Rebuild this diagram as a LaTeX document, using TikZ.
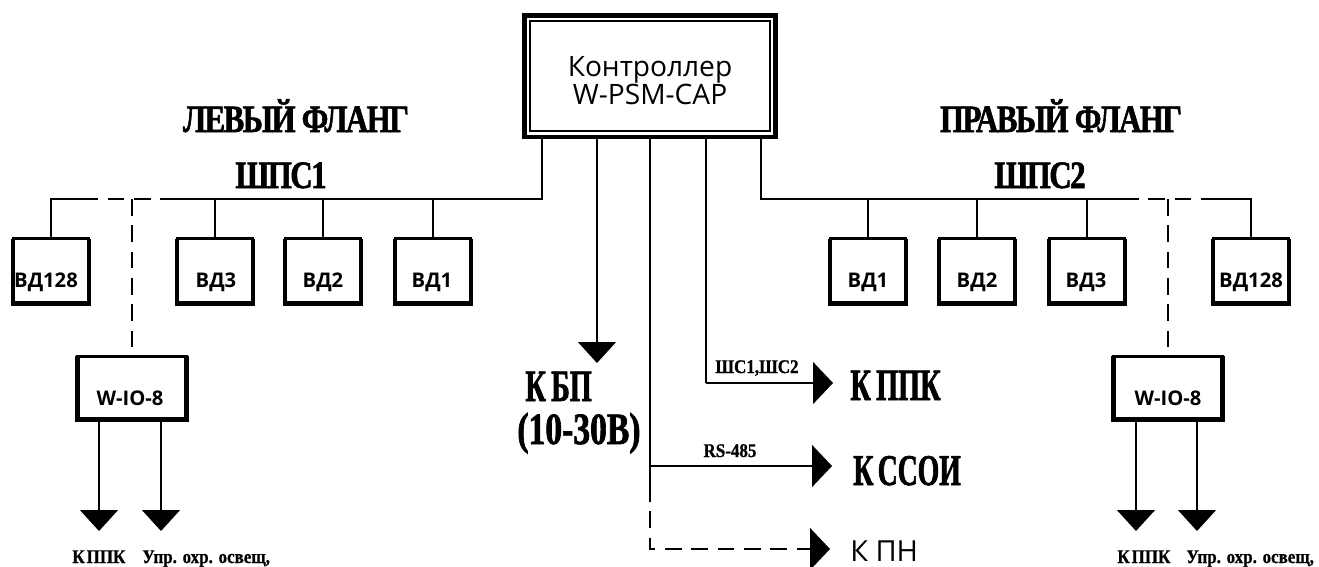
\documentclass[tikz,border=0pt]{standalone}
\usepackage{fontspec}
\setmainfont{Liberation Serif}
\newfontfamily\osans{Open Sans}
\newfontfamily\cndA[FakeStretch=0.8, LetterSpace=-4, FakeBold=1.5]{Liberation Serif}
\newfontfamily\cndK[FakeStretch=0.63, FakeBold=1.5]{Liberation Serif}
\newfontfamily\cndN[FakeStretch=0.75, FakeBold=1.5]{Liberation Serif}
\newfontfamily\cndS[FakeStretch=0.88, FakeBold=0.8]{Liberation Serif}
\usetikzlibrary{arrows.meta}
\tikzset{
  ln/.style={line width=0.8pt},
  dl/.style={line width=0.8pt, dash pattern=on 9.5pt off 5.5pt},
  vbox/.style={draw, line width=1.7pt, minimum width=1.52cm, minimum height=1.29cm, inner sep=0pt, outer sep=0pt},
  iobox/.style={draw, line width=1.7pt, minimum width=2.18cm, minimum height=1.27cm, inner sep=0pt, outer sep=0pt},
  vdtxt/.style={font=\osans\bfseries\fontsize{11.5}{14}\selectfont, anchor=base, inner sep=0pt},
  iotxt/.style={font=\osans\bfseries\fontsize{11.5}{14}\selectfont, anchor=base, inner sep=0pt},
  ctxt/.style={font=\osans\fontsize{16}{18}\selectfont, anchor=base, inner sep=0pt},
  big/.style={font=\cndA\bfseries\fontsize{22}{24}\selectfont, anchor=base, inner sep=0pt},
  bigk/.style={font=\cndK\bfseries\fontsize{25.5}{28}\selectfont, anchor=base west, inner sep=0pt, text depth=0pt},
  small/.style={font=\cndS\bfseries\fontsize{11}{12}\selectfont, anchor=base, inner sep=0pt},
  bot/.style={font=\cndS\bfseries\fontsize{11}{13}\selectfont, anchor=base west, inner sep=0pt},
  harrow/.style={ln, -{Triangle[width=0.84cm,length=0.40cm]}},
  varrow/.style={ln, -{Triangle[width=0.76cm,length=0.42cm]}},
}
\begin{document}
\begin{tikzpicture}[x=0.02cm,y=-0.02cm]
\useasboundingbox (0,0) rectangle (1319,566);
\fill[white] (0,0) rectangle (1319,566);

% controller
\node[draw, line width=2.83pt, minimum width=5.04cm, minimum height=2.44cm, inner sep=0pt, outer sep=0pt] (ctrl) at (650,76) {};
\draw[line width=0.7pt] ([xshift=0.12cm,yshift=-0.12cm]ctrl.north west) rectangle ([xshift=-0.12cm,yshift=0.12cm]ctrl.south east);
\node[ctxt] (ct1) at (650,76) {Контроллер};
\node[ctxt] (ct2) at (650,104) {W-PSM-CAP};

% flank titles
\node[big] (lflank) at (296,132) {ЛЕВЫЙ ФЛАНГ};
\node[big] (rflank) at (1061,132) {ПРАВЫЙ ФЛАНГ};
\node[big] (shps1) at (281,188) {ШПС1};
\node[big] (shps2) at (1040,188) {ШПС2};

% detector boxes
\node[vbox] (vdL128) at (51,271) {};
\node[vbox] (vdL3) at (215,271) {};
\node[vbox] (vdL2) at (323,271) {};
\node[vbox] (vdL1) at (433,271) {};
\node[vbox] (vdR1) at (868,271) {};
\node[vbox] (vdR2) at (977,271) {};
\node[vbox] (vdR3) at (1087,271) {};
\node[vbox] (vdR128) at (1251,271) {};
\node[vdtxt] (tL128) at (46,287) {ВД128};
\node[vdtxt] (tL3) at (216,287) {ВД3};
\node[vdtxt] (tL2) at (323,287) {ВД2};
\node[vdtxt] (tL1) at (432,287) {ВД1};
\node[vdtxt] (tR1) at (868,287) {ВД1};
\node[vdtxt] (tR2) at (977,287) {ВД2};
\node[vdtxt] (tR3) at (1086,287) {ВД3};
\node[vdtxt] (tR128) at (1251,287) {ВД128};

% W-IO-8 boxes
\node[iobox] (ioL) at (132,388) {};
\node[iobox] (ioR) at (1168,388) {};
\node[iotxt] (tioL) at (130,405) {W-IO-8};
\node[iotxt] (tioR) at (1168,405) {W-IO-8};

\foreach \b in {vdL128,vdL3,vdL2,vdL1,vdR1,vdR2,vdR3,vdR128,ioL,ioR}
  \draw[line width=2.8pt] (\b.north west) |- (\b.south east) -- (\b.north east);

% coordinates
\coordinate (busL) at (542,199);
\coordinate (dL1) at (177,199);
\coordinate (dL2) at (88,199);
\coordinate (cornL) at (51,199);
\coordinate (busR) at (761,199);
\coordinate (dR1) at (1122,199);
\coordinate (dR2) at (1213,199);
\coordinate (cornR) at (1251,199);

% left bus
\draw[ln] (ctrl.south -| busL) -- (busL) -- (dL1);
\draw[dl] (dL1) -- (dL2);
\draw[ln] (dL2) -- (cornL) -- (vdL128.north);
\foreach \b in {vdL3,vdL2,vdL1} \draw[ln] (\b.north |- busL) -- (\b.north);
\draw[dl] (ioL.north |- busL) -- (ioL.north);

% right bus
\draw[ln] (ctrl.south -| busR) -- (busR) -- (dR1);
\draw[dl] (dR1) -- (dR2);
\draw[ln] (dR2) -- (cornR) -- (vdR128.north);
\foreach \b in {vdR1,vdR2,vdR3} \draw[ln] (\b.north |- busR) -- (\b.north);
\draw[dl] (ioR.north |- busR) -- (ioR.north);

% power
\coordinate (kbpTip) at (597,363);
\draw[varrow] (ctrl.south -| kbpTip) -- (kbpTip);
\node[bigk] (kbp1) at (525,401) {К\hspace{0.12em}БП};
\node[bigk, font=\cndN\bfseries\fontsize{25.5}{28}\selectfont, text height=0.62em] (kbp2) at (517,444) {(10-30В)};

% to PPK
\coordinate (ppkC) at (706,383);
\coordinate (ppkTip) at (833,383);
\draw[ln] (ctrl.south -| ppkC) -- (ppkC);
\draw[harrow] (ppkC) -- (ppkTip);
\node[small] (shs) at (757,373) {ШС1,ШС2};
\node[bigk] (kppk) at (850,400) {К\hspace{0.12em}ППК};

% RS-485
\coordinate (rsC) at (650,466);
\coordinate (rsTip) at (832,466);
\coordinate (dashS) at (650,485);
\coordinate (pnC) at (650,549);
\coordinate (pnTip) at (830,549);
\draw[ln] (ctrl.south -| rsC) -- (dashS);
\draw[harrow] (rsC) -- (rsTip);
\node[small] (rs) at (730,457) {RS-485};
\node[bigk, font=\cndK\bfseries\fontsize{25}{28}\selectfont] (kssoi) at (853,485) {К\hspace{0.1em}ССОИ};
\draw[dl] (dashS) -- (pnC) -- ([xshift=-0.40cm]pnTip);
\draw[harrow] ([xshift=-0.42cm]pnTip) -- (pnTip);
\node[font=\osans\fontsize{16.5}{20}\selectfont, anchor=base west, inner sep=0pt] (kpn) at (850,561) {К ПН};

% W-IO-8 outputs
\coordinate (oL1) at (99,531);
\coordinate (oL2) at (161,531);
\coordinate (oR1) at (1136,531);
\coordinate (oR2) at (1197,531);
\draw[varrow] (ioL.south -| oL1) -- (oL1);
\draw[varrow] (ioL.south -| oL2) -- (oL2);
\draw[varrow] (ioR.south -| oR1) -- (oR1);
\draw[varrow] (ioR.south -| oR2) -- (oR2);
\node[bot] (bL1) at (72,563) {К\hspace{0.1em}ППК};
\node[bot] (bL2) at (142,563) {Упр. охр. освещ,};
\node[bot] (bR1) at (1117,563) {К\hspace{0.1em}ППК};
\node[bot] (bR2) at (1186,563) {Упр. охр. освещ,};
\end{tikzpicture}
\end{document}
